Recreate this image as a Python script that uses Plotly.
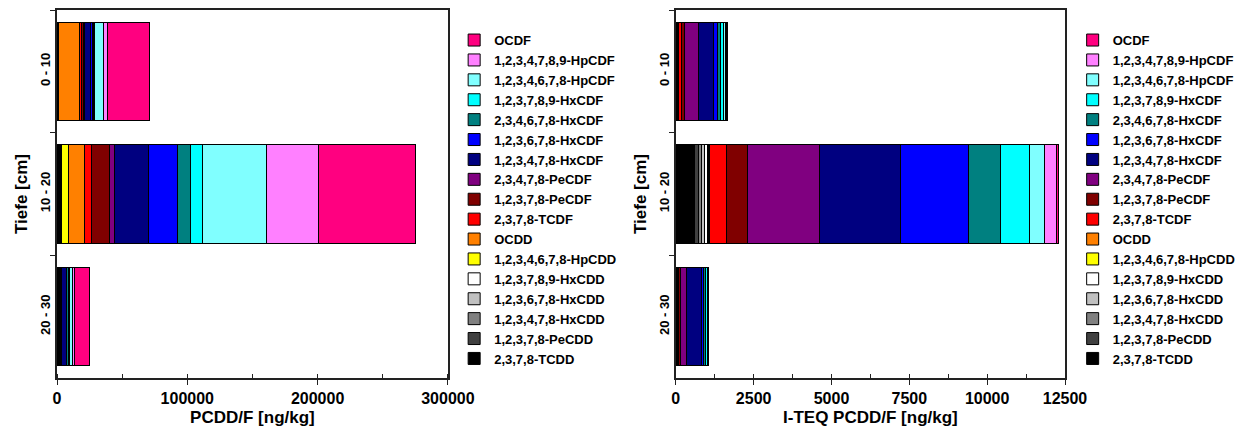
import plotly.graph_objects as go

depths = ["0 - 10", "10 - 20", "20 - 30"]

congeners = [
    "2,3,7,8-TCDD", "1,2,3,7,8-PeCDD", "1,2,3,4,7,8-HxCDD", "1,2,3,6,7,8-HxCDD",
    "1,2,3,7,8,9-HxCDD", "1,2,3,4,6,7,8-HpCDD", "OCDD", "2,3,7,8-TCDF",
    "1,2,3,7,8-PeCDF", "2,3,4,7,8-PeCDF", "1,2,3,4,7,8-HxCDF", "1,2,3,6,7,8-HxCDF",
    "2,3,4,6,7,8-HxCDF", "1,2,3,7,8,9-HxCDF", "1,2,3,4,6,7,8-HpCDF",
    "1,2,3,4,7,8,9-HpCDF", "OCDF",
]

colors = [
    "#000000", "#404040", "#808080", "#C0C0C0", "#FFFFFF", "#FFFF00", "#FF8000",
    "#FF0000", "#800000", "#800080", "#000080", "#0000FF", "#008080", "#00FFFF",
    "#80FFFF", "#FF80FF", "#FF0080",
]

# PCDD/F concentrations [ng/kg] per congener: values for depths 0-10, 10-20, 20-30
conc_0_10 = [30, 40, 50, 60, 50, 600, 16600, 1000, 1600, 930, 4900, 1050, 1000,
             1000, 6500, 3500, 32200]
conc_10_20 = [590, 300, 800, 1000, 900, 5200, 12400, 5600, 13200, 4500, 26000,
              21700, 10400, 9000, 49200, 39700, 74500]
conc_20_30 = [20, 30, 30, 30, 30, 300, 600, 700, 1000, 400, 3800, 700, 800, 800,
              2300, 1700, 12000]

# I-TEQ values [ng/kg] per congener
teq_0_10 = [30, 20, 5, 6, 5, 6, 17, 100, 80, 465, 490, 105, 100, 100, 65, 35, 32]
teq_10_20 = [590, 150, 80, 100, 90, 52, 12, 566, 650, 2336, 2605, 2176, 1033, 906,
             493, 393, 74]
teq_20_30 = [20, 15, 3, 3, 3, 3, 1, 50, 40, 195, 489, 64, 70, 55, 23, 17, 12]

FONT = "Liberation Sans, Arial, sans-serif"

fig = go.Figure()

conc = [conc_0_10, conc_10_20, conc_20_30]
teq = [teq_0_10, teq_10_20, teq_20_30]

for i, name in enumerate(congeners):
    fig.add_trace(go.Bar(
        y=depths, x=[c[i] for c in conc], name=name, orientation="h",
        marker=dict(color=colors[i], line=dict(color="#000000", width=1)),
        xaxis="x", yaxis="y", legend="legend",
    ))
for i, name in enumerate(congeners):
    fig.add_trace(go.Bar(
        y=depths, x=[t[i] for t in teq], name=name, orientation="h",
        marker=dict(color=colors[i], line=dict(color="#000000", width=1)),
        xaxis="x2", yaxis="y2", legend="legend2",
    ))

axis_line = dict(showline=True, linecolor="#222222", linewidth=1.5, mirror=True,
                 showgrid=False, zeroline=False, automargin=False)

xcommon = dict(ticks="outside", ticklen=5, tickcolor="#222222",
               tickfont=dict(family=FONT, size=16, color="#000000", weight="bold"),
               title_font=dict(family=FONT, size=17, color="#000000", weight="bold"),
               title_standoff=12, **axis_line)
ycommon = dict(type="category", categoryorder="array", categoryarray=depths,
               autorange="reversed", tickangle=-90, ticks="outside", ticklen=5,
               tickson="boundaries", tickcolor="#222222",
               tickfont=dict(family=FONT, size=13, color="#000000", weight="bold"),
               title=dict(text="Tiefe [cm]", standoff=6,
                          font=dict(family=FONT, size=17, color="#000000", weight="bold")),
               **axis_line)

legend_common = dict(traceorder="reversed", bgcolor="rgba(0,0,0,0)",
                     font=dict(family=FONT, size=13, color="#000000", weight="bold"),
                     xanchor="left", yanchor="top", y=0.959, itemclick=False)

# page body adds 8px margins, so the figure is sized to fill the 1251x435 window
fig.update_layout(
    width=1235, height=419,
    margin=dict(l=49, r=174, t=2, b=49),
    paper_bgcolor="white", plot_bgcolor="white",
    barmode="stack", bargap=0.2,
    xaxis=dict(domain=[0, 0.3878], range=[0, 300000], dtick=100000,
               tickformat="d", title_text="PCDD/F [ng/kg]",
               minor=dict(ticks="inside", dtick=50000, ticklen=4, tickcolor="#222222"),
               **xcommon),
    yaxis=dict(anchor="x", **ycommon),
    xaxis2=dict(domain=[0.6139, 1.0], range=[0, 12500], dtick=2500,
                tickformat="d", title_text="I-TEQ PCDD/F [ng/kg]", anchor="y2",
                minor=dict(ticks="inside", dtick=1250, ticklen=4, tickcolor="#222222"),
                **xcommon),
    yaxis2=dict(anchor="x2", **ycommon),
    legend=dict(x=0.394, **legend_common),
    legend2=dict(x=1.0076, **legend_common),
    showlegend=True,
)

fig.write_html("out.html")
